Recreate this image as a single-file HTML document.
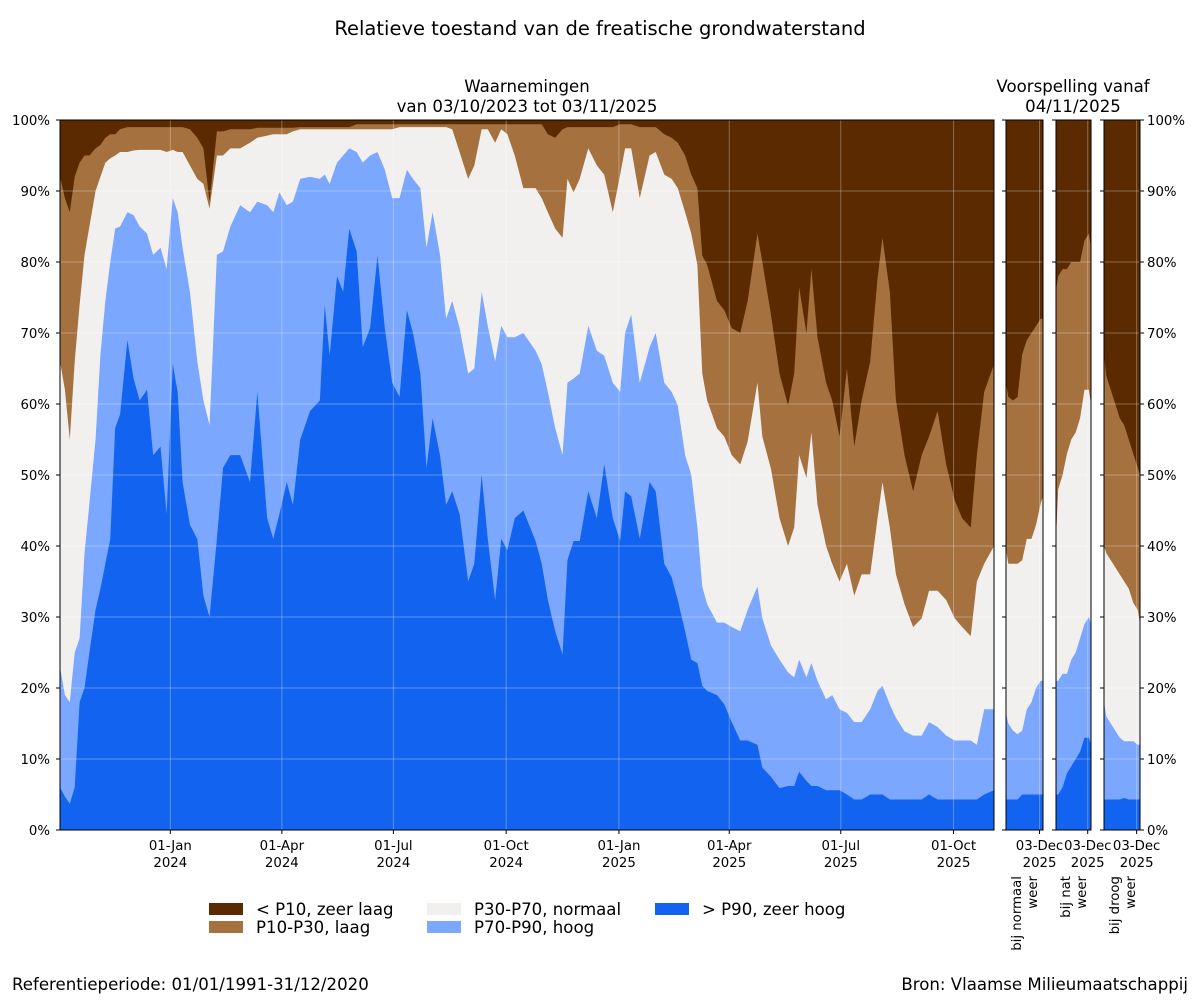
<!DOCTYPE html>
<html><head><meta charset="utf-8">
<style>
body{margin:0;background:#fff;}
svg text{font-family:"DejaVu Sans","Liberation Sans",sans-serif;fill:#000;}
</style></head>
<body>
<svg id="chart" width="1200" height="1000" xmlns="http://www.w3.org/2000/svg">
<text x="600" y="35" text-anchor="middle" font-size="19.5">Relatieve toestand van de freatische grondwaterstand</text>
<text x="527" y="92" text-anchor="middle" font-size="16.6">Waarnemingen</text>
<text x="527" y="112" text-anchor="middle" font-size="16.6">van 03/10/2023 tot 03/11/2025</text>
<text x="1073" y="92" text-anchor="middle" font-size="16.6">Voorspelling vanaf</text>
<text x="1073" y="112" text-anchor="middle" font-size="16.6">04/11/2025</text>
<g id="plots"></g>
<g>
 <rect x="209" y="903" width="34" height="12" fill="#5c2a00"/>
 <text x="256" y="915" font-size="16.6">&lt; P10, zeer laag</text>
 <rect x="209" y="921" width="34" height="12" fill="#a5713f"/>
 <text x="256" y="933" font-size="16.6">P10-P30, laag</text>
 <rect x="427" y="903" width="34" height="12" fill="#f2f0ef"/>
 <text x="474" y="915" font-size="16.6">P30-P70, normaal</text>
 <rect x="427" y="921" width="34" height="12" fill="#7ba7ff"/>
 <text x="474" y="933" font-size="16.6">P70-P90, hoog</text>
 <rect x="655" y="903" width="34" height="12" fill="#1264f0"/>
 <text x="702" y="915" font-size="16.6">&gt; P90, zeer hoog</text>
</g>
<text x="12" y="990" font-size="16.6">Referentieperiode: 01/01/1991-31/12/2020</text>
<text x="1188" y="990" text-anchor="end" font-size="16.6">Bron: Vlaamse Milieumaatschappij</text>
</svg>
<script>
// Main observations: day offset from 03/10/2023, cumulative percentage boundaries
const days = [0,4,8,12,16,20,24,29,33,37, 41,45,49,55,60,65,71,76,82,87, 92,96,100,106,112,117,122,128,133,139, 147,155,161,169,174,179,185,190,196,204, 212,216,220,226,231,236,242,247,253,259, 265,271,277,283,288,294,299,304,310,315, 320,326,333,338,344,349,355,360,365,371, 378,388,393,398,404,410,414,419,424,431, 438,444,451,457,461,466,473,481,486,493, 499,504,510,515,520,524,528,536,542,548, 555,561,569,573,580,587,594,599,603,609, 613,618,625,630,636,642,648,654,661,667, 671,677,682,689,696,703,709,716,723,730, 736,743,748,754,762];
const cumZeerHoog = [6,4.7,3.7,6,18,20,25,31,34,37.5, 41,56.6,58.5,69,63.6,60.5,62,52.8,54,44.5, 65.6,61.7,49,43,41,33,30,41,51,52.8, 52.8,49,61.7,43.9,41,44.5,49,45.8,55,59, 60.5,73.9,66.8,78,75.8,84.7,81.5,68,70.7,80.9, 70.7,63,61,73.2,70,64.3,51,58,52.8,45.8, 47.7,44.5,35,37.5,50,41,32.4,41,39.4,43.9, 45,40.7,37.5,32.4,28,24.7,38,40.7,40.7,47.7, 43.9,51.5,43.9,40.7,47.7,47,41,49,47.7,37.5, 35.6,32.4,28,24,23.5,20.3,19.6,19,17.7,15.2, 12.6,12.6,12,8.8,7.5,5.9,6.2,6.2,8.2,6.9, 6.2,6.2,5.6,5.6,5.6,5,4.3,4.3,5,5, 5,4.3,4.3,4.3,4.3,4.3,5,4.3,4.3,4.3, 4.3,4.3,4.3,5,5.6];
const cumHoog = [23,19,18,25,27,39,46,55,67,74.5, 80,84.7,85,87,86.6,85,84,81,82,79, 89,87,82,75.8,66,60.5,57,81,81.5,85, 88,87,88.5,88,87,89.8,88,88.5,91.7,92, 91.7,92.3,91,94,95,96,95.5,94,95,95.5, 93,89,89,93,91.7,90.4,82,87,81,72, 74.5,70.7,64.3,65,75.8,71,66,71,69.4,69.4, 70,67.5,65.6,61.7,56.6,52.8,63,63.6,64.3,71, 67.5,66.8,63,61.7,70,72.6,63,68,70,63, 61.7,59.8,52.8,50,42.6,34.3,31.8,29.2,29.2,28.6, 28,31,34.3,29.8,26,24,22.2,21.5,24,21.5, 23.5,21,18.4,19,17,16.5,15.2,15.2,17,19.6, 20.3,17.7,15.8,13.9,13.3,13.3,15.2,14.5,13.3,12.6, 12.6,12.6,12,17,17];
const cumNormaal = [66,62,55,66,74,81,85,90,92,94, 94.6,95,95.5,95.5,95.7,95.8,95.8,95.8,95.8,95.5, 95.8,95.5,95.5,93.6,91.7,91,87.5,95,95,96, 96,96.8,97.5,97.8,98,98,98,98.4,98.7,98.7, 98.7,98.7,98.7,98.7,98.7,98.7,98.7,98.7,98.7,98.7, 98.7,98.7,99,99,99,99,99,99,99,99, 98.7,95.5,91.7,93.6,98.7,98.7,96.8,98.7,98,95, 90.4,90.4,89,87,84.7,83.4,91.7,89.8,91.7,96, 93.6,92.3,87,92.3,96,96,89,95,95.5,92.3, 91.7,90.4,87,84,79.6,64.3,60.5,56.6,55.4,52.8, 51.5,54.7,63,55.4,50.9,43.9,40,42.6,52.8,49.6, 56,45.8,40,37.5,35,37.5,33,36,36,43.9, 49,42.6,36,31.8,28.6,29.8,33.7,33.7,32.4,29.8, 28.6,27.3,35,37.5,40];
const cumLaag = [92,89,87,92,94,95,95,96,96.5,97.5, 98,98,98.7,99,99,99,99,99,99,99, 99,99,99,98.7,97.5,96,88.5,98.4,98.4,98.7, 98.7,98.7,98.9,98.9,98.9,98.9,98.9,98.9,99,99, 99,99,99,99,99,99,99.4,99.4,99.4,99.4, 99.4,99.4,99.4,99.4,99.4,99.4,99.4,99.4,99.4,99.4, 99.4,99.4,99.4,99.4,99.4,99.4,99.4,99.4,99.4,99.4, 99.4,99.4,99.4,98,97.5,98.7,99,99,99,99, 99,99,99,99.4,99.4,99.4,99,99,99,98, 97.5,96.8,95,92.3,90.4,80.9,79.6,74.5,73.2,70.7, 70,74.5,84,80,72.6,64.3,59.8,64.3,76.4,70, 79,69.4,63,60.5,55.4,65,54,60.5,66,77.7, 83.4,75.8,60.5,52.8,47.7,52.8,55.4,59,51.5,46.4, 43.9,42.6,52.8,61.7,65.6];
const xTickDays = [90,181,272,364,456,546,637,729];
const xTickLabels = [["01-Jan","2024"],["01-Apr","2024"],["01-Jul","2024"],["01-Oct","2024"],["01-Jan","2025"],["01-Apr","2025"],["01-Jul","2025"],["01-Oct","2025"]];
const yTicks = [0,10,20,30,40,50,60,70,80,90,100];
// Forecast scenarios: day offset from 04/11/2025
const fDays = [0,2,6,10,14,18,22,26,30,32];
const fNormaal = {b1:[4.3,4.3,4.3,4.3,5,5,5,5,5,5], b2:[16.5,15,14,13.5,14,17,18,20,21,21], b3:[39.5,37.5,37.5,37.5,38,41,41,43,46,47], b4:[63,61,60.5,61,67,69,70,71,72,72]};
const fNat = {b1:[5,5,6,8,9,10,11,13,13,12], b2:[21,21,22,22,24,25,27,29,30,29], b3:[41,48,50,53,55,56,58,62,62,60], b4:[76,78,79,79,80,80,80,83,84,82]};
const fDroog = {b1:[4.3,4.3,4.3,4.3,4.3,4.5,4.3,4.3,4.3,4.3], b2:[18,16,15,14,13,12.5,12.5,12.5,12,12], b3:[40,39,38,37,36,35,34,32,31,29], b4:[67,64,62,60,58,57,55,53,51,50]};

const NS="http://www.w3.org/2000/svg";
const COLORS=["#1264f0","#7ba7ff","#f2f0ef","#a5713f"];
const TOP=120, BOT=830;
const g=document.getElementById('plots');
function el(tag,attrs,parent){const e=document.createElementNS(NS,tag);for(const k in attrs)e.setAttribute(k,attrs[k]);(parent||g).appendChild(e);return e;}
function yS(p){return BOT-(BOT-TOP)*p/100;}

function drawPanel(name,x0,x1,dArr,series,dMax,xTicks,xLabels,rightTicks){
  const xS=d=>x0+(x1-x0)*d/dMax;
  const bg=el('rect',{x:x0,y:TOP,width:x1-x0,height:BOT-TOP,fill:'#5c2a00'});
  
  
  const names=['zeer-hoog','hoog','normaal','laag'];
  for(let k=3;k>=0;k--){
    const arr=series[k];
    let pts=xS(dArr[0])+','+BOT;
    for(let i=0;i<dArr.length;i++){
      pts+=' '+xS(dArr[i])+','+yS(arr[i]);
    }
    pts+=' '+xS(dArr[dArr.length-1])+','+BOT;
    const p=el('polygon',{points:pts,fill:COLORS[k]});
    
    
  }
  for(const t of yTicks){
    const l=el('line',{x1:x0,x2:x1,y1:yS(t),y2:yS(t),stroke:'#ffffff','stroke-opacity':0.3,'stroke-width':1});
    
    
    el('line',{x1:x0-4,x2:x0,y1:yS(t),y2:yS(t),stroke:'#000'});
    if(rightTicks) el('line',{x1:x1,x2:x1+4,y1:yS(t),y2:yS(t),stroke:'#000'});
  }
  xTicks.forEach((d,i)=>{
    const x=xS(d);
    const gl=el('line',{x1:x,x2:x,y1:TOP,y2:BOT,stroke:'#ffffff','stroke-opacity':0.3});
    
    
    el('line',{x1:x,x2:x,y1:BOT,y2:BOT+4,stroke:'#000'});
    const t1=el('text',{x:x,y:BOT+20,'text-anchor':'middle','font-size':13.3});
    t1.textContent=xLabels[i][0];
    
    
    const t2=el('text',{x:x,y:BOT+37,'text-anchor':'middle','font-size':13.3});
    t2.textContent=xLabels[i][1];
    
    
  });
  const fr=el('rect',{x:x0,y:TOP,width:x1-x0,height:BOT-TOP,fill:'none',stroke:'#000','stroke-width':1});
  
  
}

drawPanel('observations',60,994,days,[cumZeerHoog,cumHoog,cumNormaal,cumLaag],762,xTickDays,xTickLabels,false);
drawPanel('forecast-normaal',1006,1043,fDays,[fNormaal.b1,fNormaal.b2,fNormaal.b3,fNormaal.b4],32,[29],[["03-Dec","2025"]],false);
drawPanel('forecast-nat',1056,1091,fDays,[fNat.b1,fNat.b2,fNat.b3,fNat.b4],32,[29],[["03-Dec","2025"]],false);
drawPanel('forecast-droog',1104,1140,fDays,[fDroog.b1,fDroog.b2,fDroog.b3,fDroog.b4],32,[29],[["03-Dec","2025"]],true);

for(const t of yTicks){
  const a=el('text',{x:50,y:yS(t)+5,'text-anchor':'end','font-size':13.3});
  a.textContent=t+'%';
  
  
  const b=el('text',{x:1147,y:yS(t)+5,'font-size':13.3});
  b.textContent=t+'%';
  
  
}
const scen=[[1024,'bij normaal','weer'],[1073,'bij nat','weer'],[1122,'bij droog','weer']];
for(const s of scen){
  const t=el('text',{transform:`translate(${s[0]-3},876) rotate(-90)`,'text-anchor':'end','font-size':13.3});
  t.textContent=s[1];
  
  
  const t2=el('text',{transform:`translate(${s[0]+13},876) rotate(-90)`,'text-anchor':'end','font-size':13.3});
  t2.textContent=s[2];
  
  
}
</script>
</body></html>
